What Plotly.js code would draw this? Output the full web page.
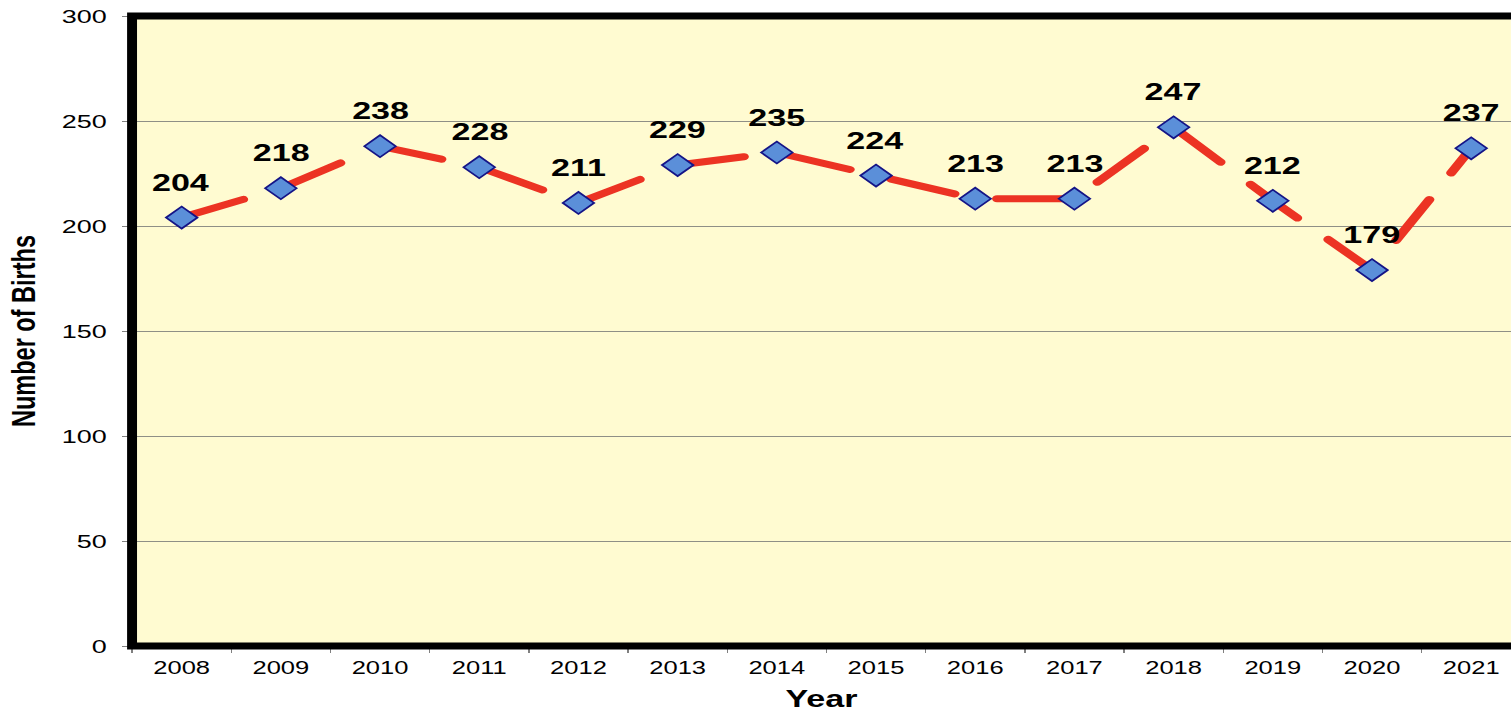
<!DOCTYPE html>
<html>
<head>
<meta charset="utf-8">
<script src="https://cdn.plot.ly/plotly-3.0.1.min.js"></script>
<style>
html,body{margin:0;padding:0;overflow:hidden;background:#ffffff;}
#wrap{width:1064px;height:712px;transform:scaleX(1.42);transform-origin:0 0;}
#chart .scatterlayer .js-line{stroke-linecap:round;}
</style>
</head>
<body>
<div id="wrap"><div id="chart"></div></div>
<script>
// Data
const years = ['2008','2009','2010','2011','2012','2013','2014','2015','2016','2017','2018','2019','2020','2021'];
const births = [204, 218, 238, 228, 211, 229, 235, 224, 213, 213, 247, 212, 179, 237];
const yTickVals = [0, 50, 100, 150, 200, 250, 300];

const FONT = 'Liberation Sans, Arial, sans-serif';

const trace = {
  x: years,
  y: births,
  type: 'scatter',
  mode: 'lines+markers',
  line: {color: '#EC3323', width: 7, dash: '47px,30.7px'},
  marker: {symbol: 'diamond', size: 17, color: '#5B8FD9', line: {color: '#141487', width: 1.5}},
  hoverinfo: 'x+y',
  showlegend: false
};

// value labels above each point (x given as category index)
const labels = years.map((yr, i) => ({
  x: i, y: births[i], xref: 'x', yref: 'y',
  text: String(births[i]),
  showarrow: false, xanchor: 'center', yanchor: 'bottom', yshift: 20,
  font: {family: FONT, size: 24, color: '#000000', weight: 'bold'}
}));

const layout = {
  width: 1064, height: 712,
  margin: {l: 93, r: 0, t: 16, b: 66, pad: 0},
  paper_bgcolor: '#ffffff',
  plot_bgcolor: '#FFFBD1',
  showlegend: false,
  xaxis: {
    type: 'category',
    range: [-0.5, 13.4],
    tickson: 'boundaries',
    ticks: 'outside', ticklen: 6, tickcolor: '#808080', tickwidth: 1,
    showgrid: false, zeroline: false, showline: false,
    tickfont: {family: FONT, size: 18, color: '#000000'},
    ticklabelstandoff: 9,
    title: {text: 'Year', font: {family: FONT, size: 24, color: '#000000', weight: 'bold'}, standoff: 17},
    fixedrange: true
  },
  yaxis: {
    range: [0, 300],
    tickmode: 'array', tickvals: yTickVals,
    ticks: 'outside', ticklen: 6, tickcolor: '#808080', tickwidth: 1,
    showgrid: true, gridcolor: '#8f8f86', gridwidth: 1,
    zeroline: false, showline: false,
    tickfont: {family: FONT, size: 19, color: '#000000'},
    ticklabelstandoff: 7,
    title: {text: 'Number of Births', font: {family: FONT, size: 23.5, color: '#000000', weight: 'bold'}, standoff: 11},
    fixedrange: true
  },
  shapes: [{
    type: 'rect', xref: 'paper', yref: 'paper',
    x0: 0, x1: 1.05, y0: 0, y1: 1,
    line: {color: '#000000', width: 7}, layer: 'above'
  }],
  annotations: labels
};

Plotly.newPlot('chart', [trace], layout, {displayModeBar: false, staticPlot: true});
</script>
</body>
</html>
